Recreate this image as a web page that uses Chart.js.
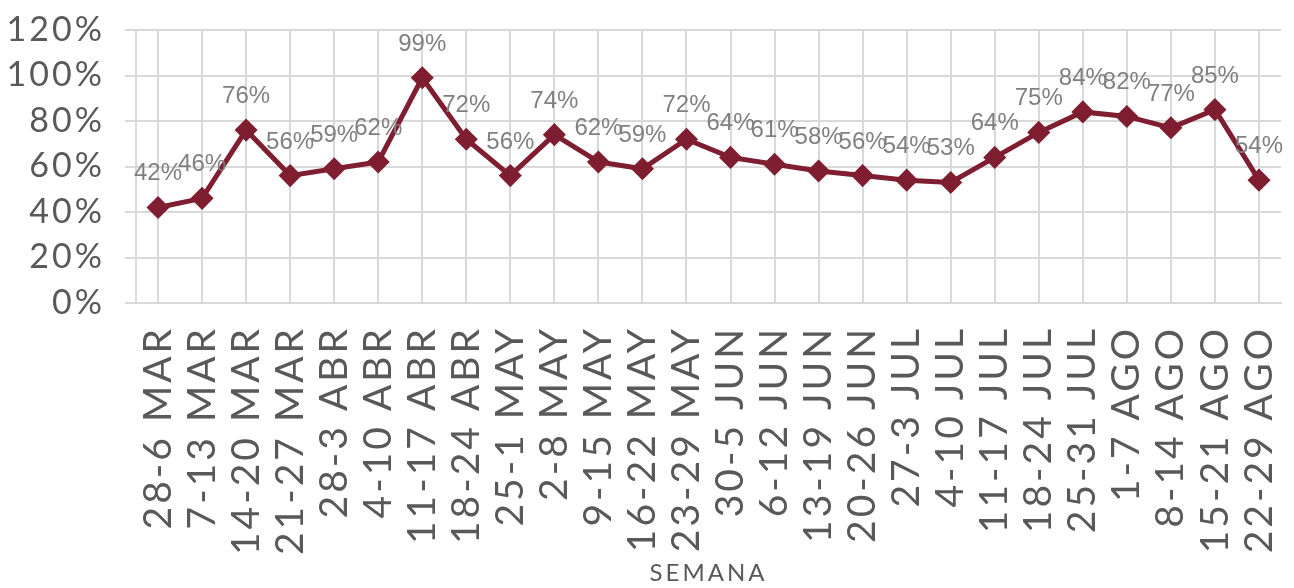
<!DOCTYPE html>
<html>
<head>
<meta charset="utf-8">
<script src="https://cdn.jsdelivr.net/npm/chart.js@4/dist/chart.umd.min.js"></script>
<style>
  html, body { margin: 0; padding: 0; background: #fff; }
  #wrap { width: 1294px; height: 588px; }
</style>
</head>
<body>
<div id="wrap"><canvas id="myChart"></canvas></div>
<script>
const weeks = ['28-6 MAR', '7-13 MAR', '14-20 MAR', '21-27 MAR', '28-3 ABR', '4-10 ABR', '11-17 ABR', '18-24 ABR',
    '25-1 MAY', '2-8 MAY', '9-15 MAY', '16-22 MAY', '23-29 MAY', '30-5 JUN', '6-12 JUN', '13-19 JUN', '20-26 JUN',
    '27-3 JUL', '4-10 JUL', '11-17 JUL', '18-24 JUL', '25-31 JUL', '1-7 AGO', '8-14 AGO', '15-21 AGO', '22-29 AGO'];
const ocupacion = [42, 46, 76, 56, 59, 62, 99, 72, 56, 74, 62, 59, 72, 64, 61, 58, 56, 54, 53, 64, 75, 84, 82, 77, 85, 54];
const yTicks = [0, 20, 40, 60, 80, 100, 120];

const LINE_COLOR = '#7e1e30';
const GRID_COLOR = '#d9d9d9';

// a bit of letter spacing like the original axis font
const spacing = {
    id: 'spacing',
    beforeLayout(chart) { chart.ctx.letterSpacing = '3px'; },
    beforeDraw(chart) { chart.ctx.letterSpacing = '3px'; }
};

// value labels above each point
const valueLabels = {
    id: 'valueLabels',
    afterDatasetsDraw(chart) {
        const ctx = chart.ctx;
        const meta = chart.getDatasetMeta(0);
        ctx.save();
        ctx.letterSpacing = '0px';
        ctx.font = '24px "Liberation Sans", Arial, sans-serif';
        ctx.fillStyle = '#808080';
        ctx.textAlign = 'center';
        ctx.textBaseline = 'alphabetic';
        meta.data.forEach((pt, i) => {
            ctx.fillText(ocupacion[i] + '%', pt.x, pt.y - 27);
        });
        ctx.restore();
    }
};

new Chart(document.getElementById('myChart'), {
    type: 'line',
    data: {
        labels: weeks,
        datasets: [{
            data: ocupacion,
            borderColor: LINE_COLOR,
            backgroundColor: LINE_COLOR,
            borderWidth: 5,
            pointStyle: 'rectRot',
            pointRadius: 8,
            pointHoverRadius: 8,
            fill: false,
            tension: 0
        }]
    },
    plugins: [spacing, valueLabels],
    options: {
        responsive: true,
        maintainAspectRatio: false,
        animation: false,
        layout: { padding: { top: 30, right: 2, left: 0, bottom: 0 } },
        plugins: {
            legend: { display: false },
            tooltip: { enabled: false }
        },
        scales: {
            x: {
                offset: true,
                grid: { offset: false, color: GRID_COLOR, lineWidth: 2, drawTicks: false },
                border: { color: GRID_COLOR, width: 2 },
                ticks: {
                    autoSkip: false,
                    minRotation: 90,
                    maxRotation: 90,
                    padding: 23,
                    color: '#595959',
                    font: { family: 'Lato', size: 39 }
                },
                title: {
                    display: true,
                    text: 'SEMANA',
                    color: '#595959',
                    padding: { top: 0, bottom: 0 },
                    font: { family: 'Lato', size: 24 }
                },
                afterFit(scale) {
                    scale.height = 285;
                    scale.paddingLeft = 0;
                    scale.paddingRight = 0;
                }
            },
            y: {
                min: 0,
                max: 120,
                afterBuildTicks(scale) { scale.ticks = yTicks.map(v => ({ value: v })); },
                grid: { color: GRID_COLOR, lineWidth: 2, tickLength: 11 },
                border: { color: GRID_COLOR, width: 2 },
                ticks: {
                    autoSkip: false,
                    padding: 20,
                    color: '#595959',
                    font: { family: 'Lato', size: 34 },
                    callback: v => v + '%'
                },
                afterFit(scale) {
                    scale.width = 136;
                    scale.paddingTop = 0;
                    scale.paddingBottom = 0;
                }
            }
        }
    }
});
</script>
</body>
</html>
